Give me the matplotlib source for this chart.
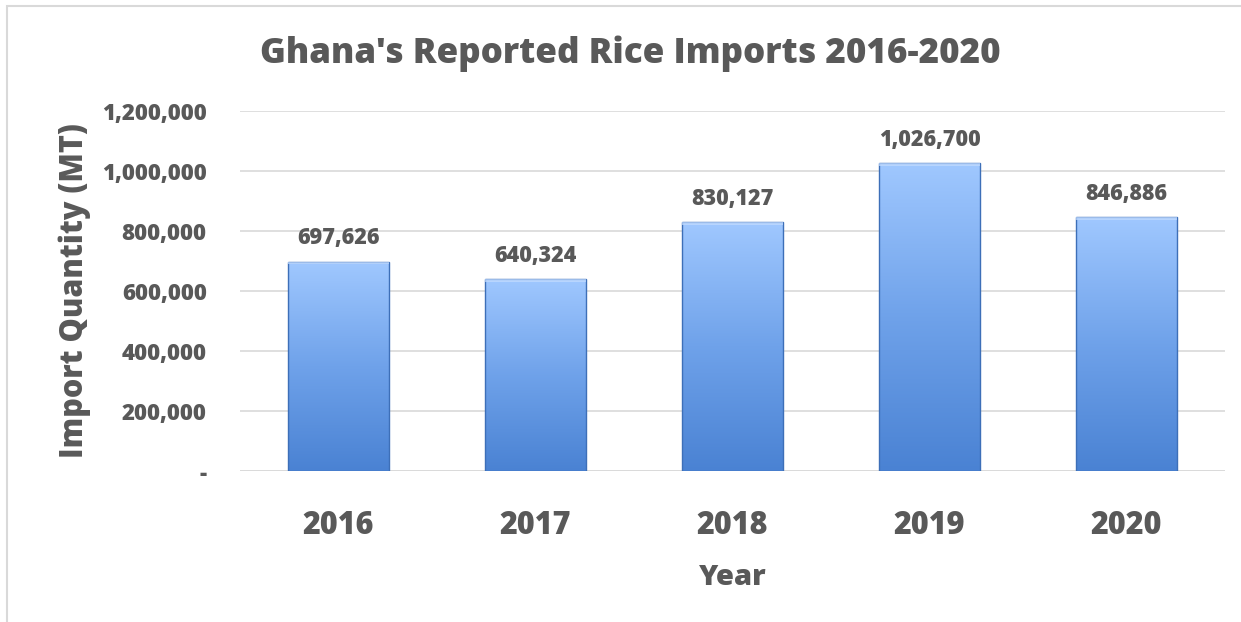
import numpy as np
import matplotlib
matplotlib.use("Agg")
import matplotlib.pyplot as plt
from matplotlib.patches import Rectangle
from matplotlib.colors import LinearSegmentedColormap
from matplotlib.ticker import FuncFormatter

years = ["2016", "2017", "2018", "2019", "2020"]
imports_mt = [697626, 640324, 830127, 1026700, 846886]
y_ticks = [0, 200000, 400000, 600000, 800000, 1000000, 1200000]

plt.rcParams['font.family'] = ['Open Sans', 'DejaVu Sans']
TXT = '#595959'
FW = 800

W, H = 1241, 622
fig = plt.figure(figsize=(W/100, H/100), dpi=100)
fig.patch.set_facecolor('white')
ax = fig.add_axes([240/W, 1-471/H, 985/W, 360/H])

x = np.arange(len(years))
bw = 0.51
bars = ax.bar(x, imports_mt, width=bw, color='none', zorder=3)

cmap = LinearSegmentedColormap.from_list('g', ['#4a82d3', '#6fa2ea', '#a0c8ff'])
grad = np.linspace(0, 1, 256).reshape(-1, 1)
for b in bars:
    x0, w, h = b.get_x(), b.get_width(), b.get_height()
    im = ax.imshow(grad, cmap=cmap, aspect='auto', origin='lower',
                   extent=[x0, x0 + w, 0, h], zorder=3)
    clip = Rectangle((x0, 0), w, h, transform=ax.transData)
    im.set_clip_path(clip)
    ax.add_patch(Rectangle((x0, 0), w, h, fill=False, edgecolor='#3d6fb8',
                           linewidth=1.0, zorder=4))
    ax.add_patch(Rectangle((x0, h - 9000), w, 9000, facecolor='#c4dcff',
                           edgecolor='none', alpha=0.7, zorder=4))
    ax.text(x0 + w/2, h + 38000, f"{h:,.0f}", ha='center', va='bottom',
            fontsize=15.5, fontweight=FW, color=TXT)

ax.set_xlim(-0.5, len(years) - 0.5)
ax.set_ylim(0, 1200000)
ax.set_yticks(y_ticks)
ax.yaxis.set_major_formatter(FuncFormatter(lambda v, p: '-' if v == 0 else f"{v:,.0f}"))
ax.set_xticks(x)
ax.set_xticklabels(years)
ax.tick_params(axis='y', length=0, pad=24, labelsize=16, labelcolor=TXT)
ax.tick_params(axis='x', length=0, pad=28, labelsize=22, labelcolor=TXT)
for t in ax.get_xticklabels() + ax.get_yticklabels():
    t.set_fontweight(FW)
ax.grid(axis='y', color='#d9d9d9', linewidth=1.2, zorder=0)
ax.set_axisbelow(True)
for s in ax.spines.values():
    s.set_visible(False)
ax.axhline(0, color='#d9d9d9', linewidth=1.2, zorder=1)

ax.set_ylabel('Import Quantity (MT)', fontsize=22, fontweight=FW, color=TXT, labelpad=8)
ax.set_xlabel('Year', fontsize=21, fontweight=FW, color=TXT, labelpad=15)
fig.text(630/W, 1-54/H, "Ghana's Reported Rice Imports 2016-2020", ha='center', va='center',
         fontsize=25.2, fontweight=FW, color=TXT)

fig.add_artist(Rectangle((7/W, -0.01), 1.1, 1 - 6/H + 0.01, transform=fig.transFigure,
                         fill=False, edgecolor='#d9d9d9', linewidth=1.5))

fig.savefig('out.png', dpi=100, facecolor='white')
